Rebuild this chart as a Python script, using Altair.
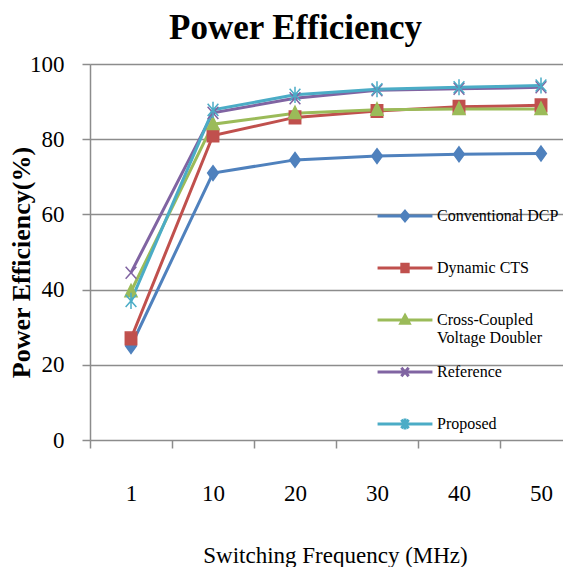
import altair as alt
import pandas as pd

freqs = ["1", "10", "20", "30", "40", "50"]
series = ["Conventional DCP", "Dynamic CTS", "Cross-Coupled Voltage Doubler", "Reference", "Proposed"]
colors = ["#4F81BD", "#C0504D", "#9BBB59", "#8064A2", "#4BACC6"]

conventional_dcp = [25, 71, 74.5, 75.5, 76, 76.2]
dynamic_cts = [27, 81, 85.8, 87.5, 88.6, 89]
cross_coupled = [39.5, 84, 86.9, 87.8, 88, 88]
reference = [44.5, 87, 90.9, 93, 93.4, 93.8]
proposed = [37, 87.8, 91.8, 93.3, 93.8, 94.3]

all_values = [conventional_dcp, dynamic_cts, cross_coupled, reference, proposed]
rows = []
for s, vals in zip(series, all_values):
    for i, (f, v) in enumerate(zip(freqs, vals)):
        rows.append({"freq": f, "idx": i, "series": s, "value": v})
df = pd.DataFrame(rows)

# point marker shapes (normalised -1..1 paths)
point_shapes = [
    "M0,-1.1L0.8,0L0,1.1L-0.8,0Z",
    "M-0.85,-0.95L0.85,-0.95L0.85,0.95L-0.85,0.95Z",
    "M0,-1.05L0.9,0.8L-0.9,0.8Z",
    "M-0.8,-0.9L0.8,0.9M-0.8,0.9L0.8,-0.9",
    "M-0.8,-0.9L0.8,0.9M-0.8,0.9L0.8,-0.9M0,-1.2L0,1.2",
]
# legend symbols: line segment plus small marker
legend_shapes = [
    "M-1.12,0L1.12,0M0,-0.19L0.16,0L0,0.19L-0.16,0Z",
    "M-1.12,0L1.12,0M-0.13,-0.15L0.13,-0.15L0.13,0.15L-0.13,0.15Z",
    "M-1.12,0L1.12,0M0,-0.18L0.17,0.13L-0.17,0.13Z",
    "M-1.12,0L1.12,0M-0.15,-0.17L0.15,0.17M-0.15,0.17L0.15,-0.17",
    "M-1.12,0L1.12,0M-0.15,-0.17L0.15,0.17M-0.15,0.17L0.15,-0.17M0,-0.22L0,0.22",
]
shape_expr = ""
for s, p in zip(series[:-1], legend_shapes[:-1]):
    shape_expr += f"datum.value == '{s}' ? '{p}' : "
shape_expr += f"'{legend_shapes[-1]}'"

freq_array = "[" + ",".join(f"'{f}'" for f in freqs) + "]"
tick_values = []
for i in range(len(freqs)):
    tick_values += [i - 0.5, i]

GRAY = "#8c8c8c"
STEP = 82
WIDTH = 473
HEIGHT = 376

legend = alt.Legend(
    title=None,
    orient="none",
    legendX=289,
    legendY=126,
    symbolSize=2401,
    symbolStrokeWidth=3,
    symbolType={"expr": shape_expr},
    symbolFillColor={"expr": "scale('color', datum.value)"},
    labelFont="Liberation Serif",
    labelFontSize=16,
    labelColor="black",
    labelOffset=6,
    labelLimit=300,
    gridAlign="all",
    rowPadding=0,
    labelExpr="datum.label == 'Cross-Coupled Voltage Doubler' ? ['Cross-Coupled', 'Voltage Doubler'] : datum.label",
)

x_enc = alt.X(
    "idx:Q",
    scale=alt.Scale(domain=[-0.5, -0.5 + WIDTH / STEP], nice=False, zero=False),
    axis=alt.Axis(
        values=tick_values,
        labelExpr=f"datum.value % 1 == 0 ? {freq_array}[datum.value] : ''",
        labelOverlap=False,
        labelFlush=False,
        labelBound=False,
        domain=False,
        grid=False,
        ticks=True,
        tickColor={"condition": {"test": "datum.value % 1 != 0", "value": GRAY}, "value": "transparent"},
        tickSize=8,
        tickWidth=1.5,
        labelFont="Liberation Sans Narrow",
        labelFontSize=23,
        labelColor="black",
        labelPadding=34,
        labelBaseline="top",
        labelAngle=0,
        title="Switching Frequency (MHz)",
        titleFont="Liberation Serif",
        titleFontSize=23,
        titleFontWeight="normal",
        titleColor="black",
        titleX=245,
        titleY=122,
        titleBaseline="alphabetic",
    ),
)
y_enc = alt.Y(
    "value:Q",
    scale=alt.Scale(domain=[0, 100], nice=False),
    axis=alt.Axis(
        values=[0, 20, 40, 60, 80, 100],
        grid=True,
        gridColor=GRAY,
        gridWidth=1.5,
        domainColor=GRAY,
        domainWidth=1.5,
        tickColor=GRAY,
        tickSize=8,
        tickWidth=1.5,
        labelFont="Liberation Serif",
        labelFontSize=23,
        labelColor="black",
        labelPadding=18,
        title="Power Efficiency(%)",
        titleFont="Liberation Serif",
        titleFontSize=26,
        titleFontWeight="bold",
        titleColor="black",
        titleAngle=270,
        titleX=-56,
        titleY=198,
        titleBaseline="bottom",
    ),
)
color_scale = alt.Scale(domain=series, range=colors)

lines = alt.Chart(df).mark_line(strokeWidth=3).encode(
    x=x_enc, y=y_enc, color=alt.Color("series:N", sort=series, scale=color_scale, legend=legend)
)

point_layers = []
for s, shp in zip(series, point_shapes):
    point_layers.append(
        alt.Chart(df)
        .transform_filter(alt.datum.series == s)
        .mark_point(shape=shp, filled=True, size=180, strokeWidth=1.5, opacity=1)
        .encode(
            x=x_enc,
            y=y_enc,
            color=alt.Color("series:N", sort=series, scale=color_scale, legend=None),
            stroke=alt.Stroke("series:N", sort=series, scale=color_scale, legend=None),
        )
    )

chart = (
    alt.layer(lines, *point_layers)
    .properties(
        width=WIDTH,
        height=HEIGHT,
        autosize=alt.AutoSizeParams(type="none"),
        padding={"left": 82, "top": 56, "right": 0, "bottom": 127},
        title=alt.TitleParams(
            "Power Efficiency",
            font="Liberation Serif",
            fontSize=35,
            fontWeight="bold",
            color="black",
            anchor="middle",
            dx=-31,
            offset=-21,
            baseline="alphabetic",
        ),
    )
    .configure_view(stroke=None)
    .configure(background="white")
)

chart.save("out.html", embed_options={"renderer": "svg", "actions": False})
